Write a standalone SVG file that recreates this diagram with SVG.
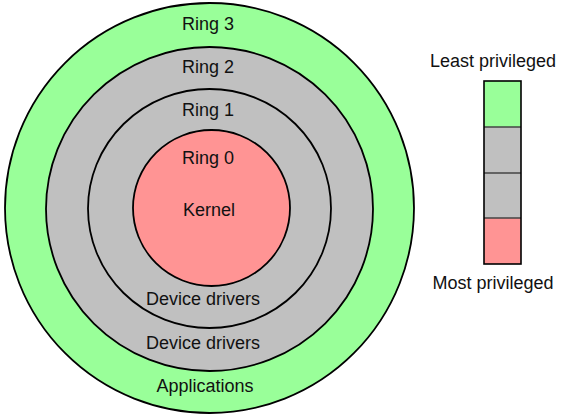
<svg xmlns="http://www.w3.org/2000/svg" width="563" height="417" viewBox="0 0 563 417">
<style>
.ring{stroke:#000;stroke-width:1.8}
.g{fill:#99ff99}
.s{fill:#c0c0c0}
.r{fill:#ff9494}
text{font-family:"Liberation Sans",Arial,sans-serif;font-size:18px;fill:#111;text-anchor:middle}
.bar{stroke:#000;stroke-width:1.6}
.div{stroke:#444;stroke-width:1.6}
</style>
<rect width="563" height="417" fill="#fff"/>
<g id="ring3">
<ellipse class="ring g" cx="209.5" cy="208" rx="204.5" ry="205"/>
<text x="208" y="30">Ring 3</text>
<text x="205" y="392">Applications</text>
</g>
<g id="ring2">
<ellipse class="ring s" cx="209.5" cy="209" rx="163.5" ry="162"/>
<text x="208" y="73">Ring 2</text>
<text x="203" y="349">Device drivers</text>
</g>
<g id="ring1">
<ellipse class="ring s" cx="209.5" cy="208.5" rx="121.5" ry="119.5"/>
<text x="208" y="116">Ring 1</text>
<text x="203" y="305">Device drivers</text>
</g>
<g id="ring0">
<ellipse class="ring r" cx="211.5" cy="208" rx="78.5" ry="78"/>
<text x="208" y="164">Ring 0</text>
<text x="209" y="216">Kernel</text>
</g>
<g id="legend">
<text x="493" y="67">Least privileged</text>
<rect class="g" x="484" y="81" width="37" height="46"/>
<rect class="s" x="484" y="127" width="37" height="46"/>
<rect class="s" x="484" y="173" width="37" height="45"/>
<rect class="r" x="484" y="218" width="37" height="46"/>
<g class="div">
<line x1="484" y1="127" x2="521" y2="127"/>
<line x1="484" y1="173" x2="521" y2="173"/>
<line x1="484" y1="218" x2="521" y2="218"/>
</g>
<rect class="bar" x="484" y="81" width="37" height="183" fill="none"/>
<text x="493" y="289">Most privileged</text>
</g>
</svg>
